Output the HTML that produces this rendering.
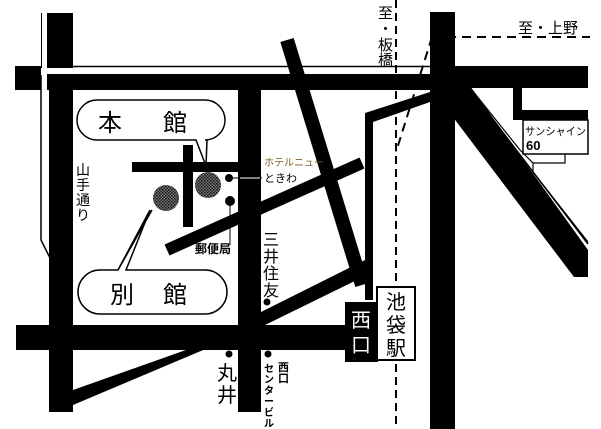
<!DOCTYPE html>
<html><head><meta charset="utf-8"><style>
html,body{margin:0;padding:0;background:#fff}
svg{display:block}
text{font-family:"Liberation Sans","Noto Sans CJK JP",sans-serif;fill:#000}
</style></head><body>
<svg width="601" height="429" viewBox="0 0 601 429" xmlns="http://www.w3.org/2000/svg">
<defs>
<pattern id="h" width="3" height="3" patternUnits="userSpaceOnUse">
<rect width="3" height="3" fill="#777"/><rect width="1.5" height="1.5" fill="#111"/><rect x="1.5" y="1.5" width="1.5" height="1.5" fill="#222"/>
</pattern>
</defs>
<rect width="601" height="429" fill="#fff"/>
<rect x="41" y="13" width="32" height="55" fill="#000"/>
<rect x="42" y="13" width="5" height="55" fill="#fff"/>
<rect x="49" y="74" width="24" height="338" fill="#000"/>
<polyline points="41,75 41,240 50,258" fill="none" stroke="#000" stroke-width="1.5"/>
<rect x="15" y="66" width="26" height="24" fill="#000"/>
<line x1="47" y1="66.5" x2="455" y2="66.5" stroke="#000" stroke-width="1.5"/>
<rect x="47" y="74" width="383" height="16" fill="#000"/>
<rect x="455" y="66" width="133" height="22" fill="#000"/>
<rect x="430" y="12" width="25" height="417" fill="#000"/>
<polygon points="440,72 460,72 588,250 588,277 574,277 440,100" fill="#000"/>
<line x1="453" y1="67" x2="588" y2="244" stroke="#000" stroke-width="1.5"/>
<polyline points="472,90 520,150 533,163 533,172 588,242" fill="none" stroke="#000" stroke-width="1.2"/>
<polyline points="533,163 565,163 565,154" fill="none" stroke="#000" stroke-width="1.2"/>
<rect x="513" y="88" width="9" height="32" fill="#000"/>
<rect x="513" y="110" width="75" height="10" fill="#000"/>
<rect x="523" y="120" width="65" height="34" fill="#fff" stroke="#000" stroke-width="1.5"/>
<text x="525" y="135" font-size="11" textLength="61" lengthAdjust="spacingAndGlyphs">サンシャイン</text>
<text x="526" y="150" font-size="13" font-weight="bold">60</text>
<polygon points="365,113 430,92 430,102 373,122 373,300 365,300" fill="#000"/>
<line x1="287" y1="40" x2="362" y2="285" stroke="#000" stroke-width="14"/>
<rect x="238" y="90" width="23" height="322" fill="#000"/>
<rect x="16" y="325" width="330" height="25" fill="#000"/>
<polygon points="73,390 200,345 215,345 73,405" fill="#000"/>
<polygon points="261,312 365,260 367,275 261,327" fill="#000"/>
<line x1="167" y1="250" x2="362" y2="163" stroke="#000" stroke-width="12"/>
<rect x="132" y="162" width="106" height="10" fill="#000"/>
<rect x="183" y="145" width="10" height="82" fill="#000"/>
<line x1="396" y1="0" x2="396" y2="429" stroke="#000" stroke-width="2" stroke-dasharray="8,5"/>
<line x1="432" y1="37" x2="590" y2="37" stroke="#000" stroke-width="2" stroke-dasharray="9,6"/>
<line x1="432" y1="37" x2="396" y2="152" stroke="#000" stroke-width="2" stroke-dasharray="9,6"/>
<rect x="345" y="302" width="33" height="60" fill="#000"/>
<text x="361" y="327" font-size="20" text-anchor="middle" style="fill:#fff">西</text>
<text x="361" y="352" font-size="20" text-anchor="middle" style="fill:#fff">口</text>
<rect x="377" y="287" width="38" height="73" fill="#fff" stroke="#000" stroke-width="2"/>
<text x="396" y="309" font-size="20" text-anchor="middle">池</text>
<text x="396" y="332" font-size="20" text-anchor="middle">袋</text>
<text x="396" y="355" font-size="20" text-anchor="middle">駅</text>
<path d="M97,100 H205 A20,20 0 0 1 205,140 H207 L206,166 L196,140 H97 A20,20 0 0 1 97,100 Z" fill="#fff" stroke="#000" stroke-width="1.5"/>
<text x="98" y="131" font-size="24">本</text>
<text x="163" y="131" font-size="24">館</text>
<path d="M100,270 H118 L150,210 L126,270 H205 A22,22 0 0 1 205,314 H100 A22,22 0 0 1 100,270 Z" fill="#fff" stroke="#000" stroke-width="1.5"/>
<text x="110" y="303" font-size="24">別</text>
<text x="163" y="303" font-size="24">館</text>
<line x1="118" y1="270" x2="152" y2="210" stroke="#000" stroke-width="1.5"/>
<circle cx="166" cy="198" r="13" fill="url(#h)"/>
<circle cx="208" cy="185" r="13" fill="url(#h)"/>
<circle cx="229" cy="178" r="4" fill="#000"/>
<line x1="233" y1="178" x2="262" y2="178" stroke="#000" stroke-width="1"/>
<line x1="240" y1="178" x2="260" y2="178" stroke="#fff" stroke-width="1"/>
<circle cx="230" cy="201" r="5" fill="#000"/>
<line x1="230" y1="205" x2="230" y2="245" stroke="#000" stroke-width="1"/>
<circle cx="267" cy="302" r="3.5" fill="#000"/>
<circle cx="229" cy="354" r="3.5" fill="#000"/>
<circle cx="268" cy="354" r="3.5" fill="#000"/>
<text x="264" y="166" font-size="10" style="fill:#7a5a20">ホテルニュー</text>
<text x="264" y="182" font-size="11">ときわ</text>
<text x="195" y="253" font-size="12" font-weight="bold">郵便局</text>
<g font-size="16"><text x="263" y="245">三</text><text x="263" y="262">井</text><text x="263" y="279">住</text><text x="263" y="296">友</text></g>
<g font-size="14"><text x="76" y="175">山</text><text x="76" y="190">手</text><text x="76" y="205">通</text><text x="76" y="220">り</text></g>
<g font-size="20"><text x="217" y="380">丸</text><text x="217" y="402">井</text></g>
<g font-size="11" font-weight="bold"><text x="278" y="371">西</text><text x="278" y="382">口</text></g>
<g font-size="10" font-weight="bold"><text x="264" y="372">セ</text><text x="264" y="383">ン</text><text x="264" y="394">タ</text><text x="264" y="405">ー</text><text x="264" y="416">ビ</text><text x="264" y="427">ル</text></g>
<g font-size="15"><text x="378" y="18">至</text><text x="378" y="34">・</text><text x="378" y="50">板</text><text x="378" y="65">橋</text></g>
<text x="518" y="33" font-size="15">至・上野</text>
</svg>
</body></html>
